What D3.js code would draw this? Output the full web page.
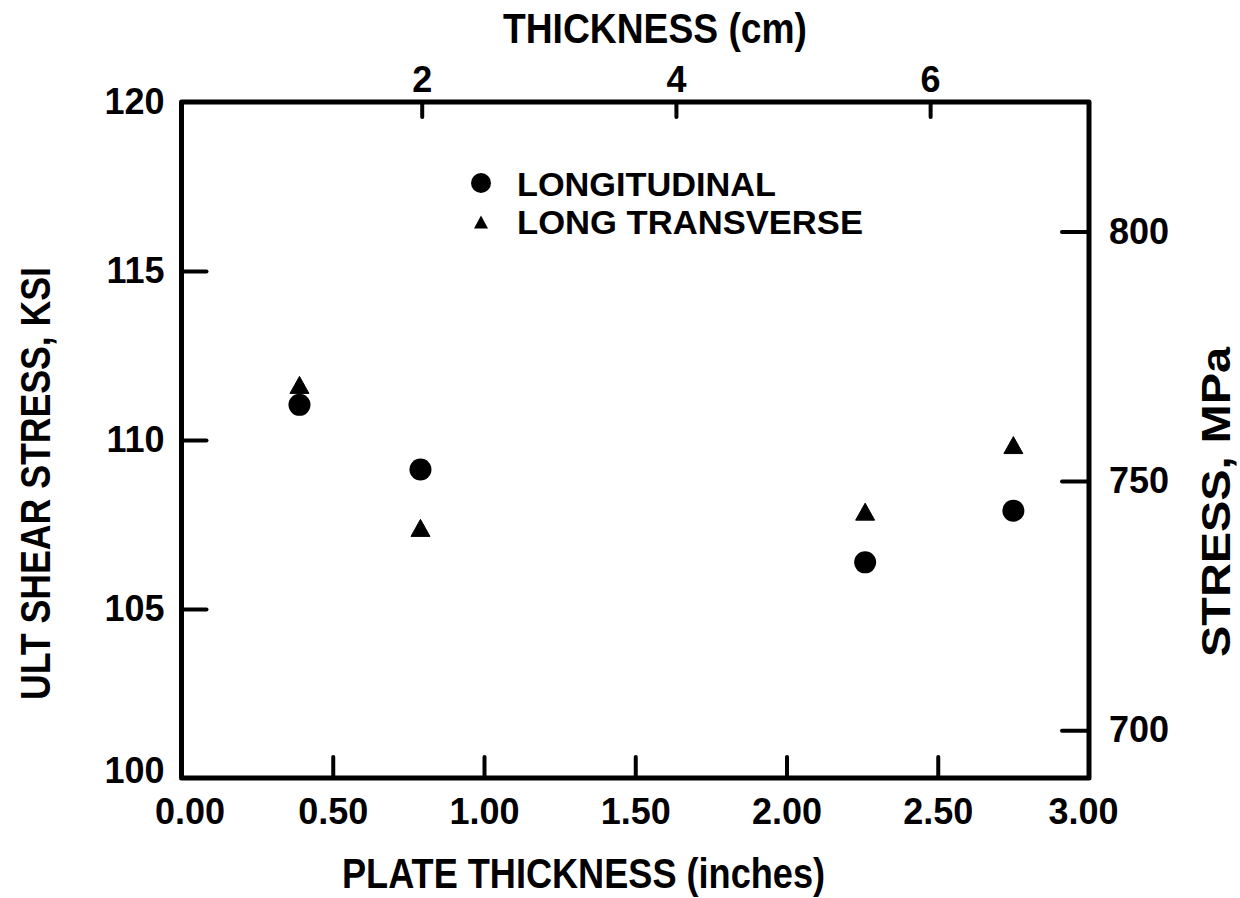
<!DOCTYPE html>
<html>
<head>
<meta charset="utf-8">
<script src="https://cdn.jsdelivr.net/npm/d3@7"></script>
<style>
  html, body { margin: 0; padding: 0; background: #fff; }
  svg { display: block; }
  text { font-family: "Liberation Sans", Arial, sans-serif; font-weight: bold; fill: #000; }
</style>
</head>
<body>
<svg id="chart" width="1240" height="898"></svg>
<script>
// ---- data ----
const longThickness = [0.39, 0.79, 2.26, 2.75];
const longStress    = [111.04, 109.13, 106.38, 107.91];
const transThickness = [0.39, 0.79, 2.26, 2.75];
const transStress    = [111.63, 107.40, 107.88, 109.85];

const xTicks   = [0, 0.5, 1.0, 1.5, 2.0, 2.5, 3.0];
const xLabels  = ["0.00", "0.50", "1.00", "1.50", "2.00", "2.50", "3.00"];
const yTicks   = [100, 105, 110, 115, 120];
const cmTicks  = [2, 4, 6];
const mpaTicks = [700, 750, 800];

const seriesNames = ["LONGITUDINAL", "LONG TRANSVERSE"];
const xTitle  = "PLATE THICKNESS (inches)";
const topTitle = "THICKNESS (cm)";
const yTitle  = "ULT SHEAR STRESS, KSI";
const y2Title = "STRESS, MPa";

// ---- layout ----
const L = 181.5, R = 1089, T = 102, B = 778;
const svg = d3.select("#chart");

const x   = d3.scaleLinear().domain([0, 3]).range([L, R]);
const y   = d3.scaleLinear().domain([100, 120]).range([B, T]);
const cm  = d3.scaleLinear().domain([0.11, 7.25]).range([L, R]);
const mpa = d3.scaleLinear().domain([690.4, 826]).range([B, T]);

const numFont = 36;

// bottom axis
const gx = svg.append("g").attr("transform", `translate(0,${B})`)
  .call(d3.axisBottom(x).tickValues(xTicks).tickFormat((d, i) => xLabels[i]).tickSize(-21).tickPadding(20));
// left axis
const gy = svg.append("g").attr("transform", `translate(${L},0)`)
  .call(d3.axisLeft(y).tickValues(yTicks).tickFormat(d3.format("d")).tickSize(-25).tickPadding(17));
// top axis
const gt = svg.append("g").attr("transform", `translate(0,${T})`)
  .call(d3.axisTop(cm).tickValues(cmTicks).tickFormat(d3.format("d")).tickSize(-15).tickPadding(10));
// right axis
const gr = svg.append("g").attr("transform", `translate(${R},0)`)
  .call(d3.axisRight(mpa).tickValues(mpaTicks).tickFormat(d3.format("d")).tickSize(-27).tickPadding(20));

[gx, gy, gt, gr].forEach(g => {
  g.select(".domain").remove();
  g.selectAll(".tick line").attr("stroke", "#000").attr("stroke-width", 4).attr("stroke-linecap", "round");
  g.selectAll(".tick text").style("font-size", numFont + "px").attr("fill", "#000");
});
// no ticks at frame corners
gx.selectAll(".tick").filter(d => d === 0 || d === 3).select("line").remove();
gy.selectAll(".tick").filter(d => d === 100 || d === 120).select("line").remove();
// label nudges as in reference
gx.selectAll(".tick").filter(d => d === 0).select("text").attr("dx", 8);
gx.selectAll(".tick").filter(d => d === 3).select("text").attr("dx", -6);
gy.selectAll(".tick").filter(d => d === 100).select("text").attr("dy", "0.12em");

// frame
svg.append("rect")
  .attr("x", L).attr("y", T).attr("width", R - L).attr("height", B - T)
  .attr("fill", "none").attr("stroke", "#000").attr("stroke-width", 5)
  .attr("stroke-linejoin", "round");

// titles
const titleSize = 42;
svg.append("text").attr("x", 342).attr("y", 888).style("font-size", titleSize + "px")
  .attr("textLength", 483).attr("lengthAdjust", "spacingAndGlyphs").text(xTitle);
svg.append("text").attr("x", 503).attr("y", 43).style("font-size", titleSize + "px")
  .attr("textLength", 304).attr("lengthAdjust", "spacingAndGlyphs").text(topTitle);
svg.append("text").attr("transform", `translate(50,700) rotate(-90)`).style("font-size", titleSize + "px")
  .attr("textLength", 433).attr("lengthAdjust", "spacingAndGlyphs").text(yTitle);
svg.append("text").attr("transform", `translate(1230,657) rotate(-90)`).style("font-size", "40px")
  .attr("textLength", 310).attr("lengthAdjust", "spacingAndGlyphs").text(y2Title);

// markers
function triPath(cx, cy, w, h) {
  return `M${cx},${cy - h / 2}L${cx + w / 2},${cy + h / 2}L${cx - w / 2},${cy + h / 2}Z`;
}

svg.append("g").selectAll("circle")
  .data(longThickness.map((t, i) => [t, longStress[i]]))
  .join("circle")
  .attr("cx", d => x(d[0])).attr("cy", d => y(d[1])).attr("r", 11).attr("fill", "#000");

svg.append("g").selectAll("path")
  .data(transThickness.map((t, i) => [t, transStress[i]]))
  .join("path")
  .attr("d", d => triPath(x(d[0]), y(d[1]), 19, 17))
  .attr("fill", "#000").attr("stroke", "#000").attr("stroke-width", 1).attr("stroke-linejoin", "round");

// legend
const lg = svg.append("g");
lg.append("circle").attr("cx", 481).attr("cy", 183).attr("r", 10).attr("fill", "#000");
lg.append("path").attr("d", triPath(481, 222, 14, 13)).attr("fill", "#000");
lg.append("text").attr("x", 517).attr("y", 196).style("font-size", "34px")
  .attr("textLength", 259).attr("lengthAdjust", "spacingAndGlyphs").text(seriesNames[0]);
lg.append("text").attr("x", 517).attr("y", 234).style("font-size", "34px")
  .attr("textLength", 346).attr("lengthAdjust", "spacingAndGlyphs").text(seriesNames[1]);
</script>
</body>
</html>
